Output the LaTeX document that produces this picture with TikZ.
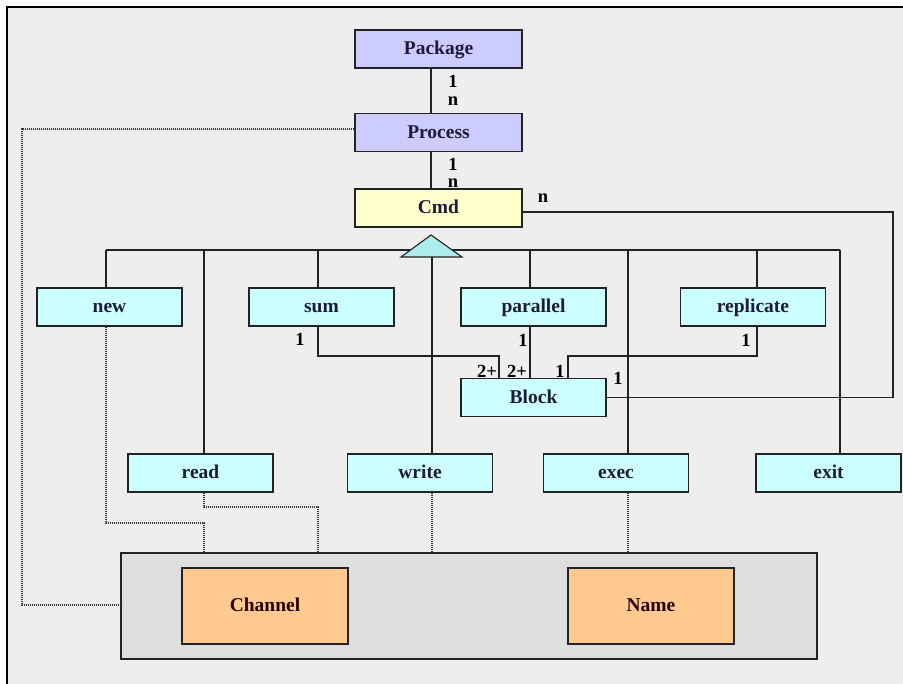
\documentclass[tikz,border=0pt]{standalone}
\usepackage{fontspec}
\setmainfont{Liberation Serif}
\begin{document}
\definecolor{pagebg}{HTML}{EEEEEE}
\definecolor{lavender}{HTML}{CCCCFF}
\definecolor{paleyellow}{HTML}{FFFFCC}
\definecolor{palecyan}{HTML}{CCFFFF}
\definecolor{orangebox}{HTML}{FFC98F}
\definecolor{groupbg}{HTML}{DEDEDE}
\definecolor{ink}{HTML}{1C1C3A}
\definecolor{wire}{HTML}{222222}
\begin{tikzpicture}[x=1pt,y=-1pt,
  box/.style={draw=wire, line width=1.1pt, rectangle, minimum height=38pt,
    minimum width=145pt, inner sep=0pt, text height=14pt, text depth=2pt,
    text=ink, font=\fontsize{19.5}{21}\selectfont\bfseries},
  toplevel/.style={box, fill=lavender, minimum width=167pt},
  cmdbox/.style={box, fill=paleyellow, minimum width=167pt},
  kind/.style={box, fill=palecyan},
  store/.style={box, fill=orangebox, minimum width=166pt, minimum height=76pt, text=black!85!red},
  link/.style={draw=wire, line width=1.1pt},
  ref/.style={draw=black!80, line width=1.1pt, dash pattern=on 1pt off 1pt},
  mult/.style={inner sep=0pt, text=black, font=\fontsize{18.5}{20}\selectfont\bfseries}]
  \useasboundingbox (0,0) rectangle (903,684);
  % page area with frame on left and top
  \fill[white] (0,0) rectangle (903,684);
  \fill[pagebg] (7,7) rectangle (903,684);
  \draw[black, line width=1.5pt] (7,684) -- (7,7) -- (903,7);

  % reference nodes
  \coordinate (spine) at (431,0);
  \coordinate (bus) at (0,250);
  \coordinate (tap) at (0,356);
  \coordinate (loopx) at (893,0);

  % top chain
  \node[toplevel] (package) at (438.5,49) {Package};
  \node[toplevel] (process) at (438.5,132.5) {Process};
  \node[cmdbox] (cmd) at (438.5,208) {Cmd};

  % command kinds
  \node[kind] (new) at (109.5,307) {new};
  \node[kind] (sum) at (321.5,307) {sum};
  \node[kind] (parallel) at (533.5,307) {parallel};
  \node[kind] (replicate) at (753,307) {replicate};
  \node[kind] (block) at (533.5,397.5) {Block};
  \node[kind] (read) at (200.5,473) {read};
  \node[kind] (write) at (420,473) {write};
  \node[kind] (exec) at (616,473) {exec};
  \node[kind] (exit) at (828.5,473) {exit};

  % environment group
  \node[draw=wire, line width=1.1pt, fill=groupbg, minimum width=696pt,
        minimum height=106pt, inner sep=0pt] (env) at (469,606) {};
  \node[store] (channel) at (265,606) {Channel};
  \node[store] (name) at (651,606) {Name};

  % coordinates for the inheritance bus
  \coordinate (c-new) at (106,0);
  \coordinate (c-read) at (204,0);
  \coordinate (c-sum) at (318,0);
  \coordinate (c-write) at (432,0);
  \coordinate (c-par) at (530,0);
  \coordinate (c-exec) at (628,0);
  \coordinate (c-rep) at (757,0);
  \coordinate (c-exit) at (840,0);

  % composition chain
  \draw[link] (package.south -| spine) -- (process.north -| spine);
  \draw[link] (process.south -| spine) -- (cmd.north -| spine);

  % inheritance bus and drops
  \draw[link] (bus -| c-new) -- (bus -| c-exit);
  \draw[link] (bus -| c-new) -- (new.north -| c-new);
  \draw[link] (bus -| c-read) -- (read.north -| c-read);
  \draw[link] (bus -| c-sum) -- (sum.north -| c-sum);
  \draw[link] (bus -| c-par) -- (parallel.north -| c-par);
  \draw[link] (bus -| c-exec) -- (exec.north -| c-exec);
  \draw[link] (bus -| c-rep) -- (replicate.north -| c-rep);
  \draw[link] (bus -| c-exit) -- (exit.north -| c-exit);
  \coordinate (tri-top) at (431,235);
  \coordinate (tri-r) at (462,257);
  \coordinate (tri-l) at (401,257);
  \draw[link] (tri-l -| c-write) -- (write.north -| c-write);
  \draw[link, fill=palecyan!85!teal] (tri-top) -- (tri-r) -- (tri-l) -- cycle;

  % block associations
  \draw[link] (sum.south -| c-sum) |- (tap -| 499,0) -- (block.north -| 499,0);
  \draw[link] (parallel.south -| c-par) -- (block.north -| c-par);
  \draw[link] (replicate.south -| c-rep) |- (tap -| 568,0) -- (block.north -| 568,0);
  \draw[link] (cmd.east |- 0,212) -| (loopx |- block.east) -- (block.east);

  % references to the environment
  \draw[ref] (process.west |- 0,129) -| (22,605) -- (env.west |- 0,605);
  \draw[ref] (new.south -| c-new) |- (204,523) -- (env.north -| 204,0);
  \draw[ref] (read.south -| c-read) |- (318,507) -- (env.north -| 318,0);
  \draw[ref] (write.south -| c-write) -- (env.north -| c-write);
  \draw[ref] (exec.south -| c-exec) -- (env.north -| c-exec);

  % multiplicities
  \node[mult] (m1) at (453,81) {1};
  \node[mult] (m2) at (453,101) {n};
  \node[mult] (m3) at (453,164) {1};
  \node[mult] (m4) at (453,183) {n};
  \node[mult] (m5) at (543,198) {n};
  \node[mult] (m6) at (300,339) {1};
  \node[mult] (m7) at (523,340) {1};
  \node[mult] (m8) at (746,340) {1};
  \node[mult] (m9) at (487,371) {2+};
  \node[mult] (m10) at (517,371) {2+};
  \node[mult] (m11) at (560,371) {1};
  \node[mult] (m12) at (618,378) {1};
\end{tikzpicture}
\end{document}
